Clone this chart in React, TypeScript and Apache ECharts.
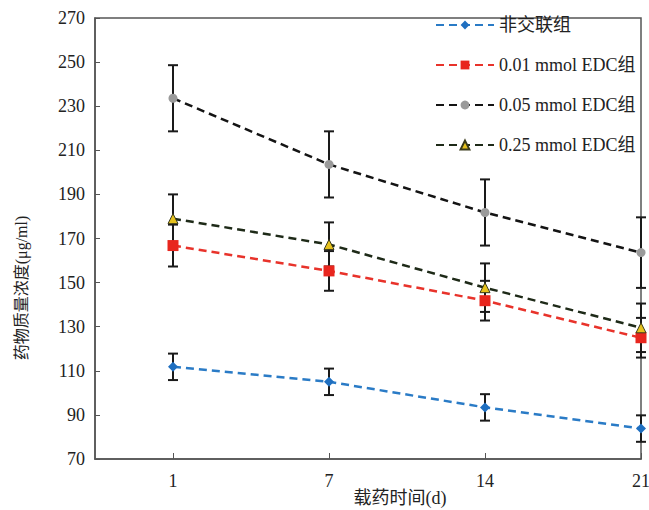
import React, { useEffect, useRef } from "react";
import * as echarts from "echarts";

const categories = ["1", "7", "14", "21"];
const seriesNames = ["非交联组", "0.01 mmol EDC组", "0.05 mmol EDC组", "0.25 mmol EDC组"];
const noCross = [111.8, 105, 93.4, 83.8];
const noCrossErr = [6, 6, 6, 6];
const edc001 = [166.8, 155.3, 141.8, 125];
const edc001Err = [9.5, 9, 9, 9];
const edc005 = [233.6, 203.6, 181.8, 163.6];
const edc005Err = [15, 15, 15, 16];
const edc025 = [179, 167.3, 147.7, 129.5];
const edc025Err = [11, 10, 11, 11];
const yTicks = [70, 90, 110, 130, 150, 170, 190, 210, 230, 250, 270];

const serif = "'Liberation Serif', 'Noto Sans CJK SC', serif";

export default function App() {
  const ref = useRef<HTMLDivElement>(null);
  useEffect(() => {
    if (!ref.current) return;
    const chart = echarts.init(ref.current, null, { renderer: "svg" });
    const xIdx = categories.map((_, i) => i);

    const mk = (vals: number[]) => vals.map((v, i) => [xIdx[i], v]);
    const errData: number[][] = [];
    [
      [noCross, noCrossErr],
      [edc001, edc001Err],
      [edc005, edc005Err],
      [edc025, edc025Err],
    ].forEach(([vals, errs]) => {
      vals.forEach((v, i) => errData.push([xIdx[i], v - errs[i], v + errs[i]]));
    });

    const lineBase = (name: string, data: number[], lineColor: string, symbol: string, symColor: string, symSize: number, border?: string) => ({
      name,
      type: "line",
      data: mk(data),
      z: 3,
      symbol,
      symbolSize: symSize,
      lineStyle: { color: lineColor, width: 2.5, type: [8, 5] },
      itemStyle: { color: symColor, borderColor: border || symColor, borderWidth: border ? 1 : 0 },
    });

    chart.setOption({
      animation: false,
      backgroundColor: "#fff",
      grid: { left: 95, right: 8, top: 18, bottom: 51, containLabel: false, outerBoundsMode: "none" },
      legend: {
        data: seriesNames,
        orient: "vertical",
        left: 435,
        top: 16,
        padding: 0,
        itemWidth: 58,
        itemHeight: 11,
        itemGap: 22,
        textStyle: { fontFamily: serif, fontSize: 18, color: "#222" },
      },
      xAxis: {
        type: "value",
        min: -0.5,
        max: 3,
        axisLine: { show: true, onZero: false, lineStyle: { color: "#555", width: 1.5 } },
        axisTick: { show: true, inside: true, length: 6, customValues: xIdx, lineStyle: { color: "#555" } },
        axisLabel: {
          customValues: xIdx,
          formatter: (v: number) => categories[Math.round(v)] ?? "",
          fontFamily: serif,
          fontSize: 18,
          color: "#222",
          margin: 13,
        },
        splitLine: { show: false },
      },
      yAxis: {
        type: "value",
        min: 70,
        max: 270,
        interval: 20,
        axisLine: { show: true, onZero: false, lineStyle: { color: "#555", width: 1.5 } },
        axisTick: { show: true, inside: true, length: 5, lineStyle: { color: "#555" } },
        axisLabel: {
          fontFamily: serif,
          fontSize: 18,
          color: "#222",
          margin: 10,
          formatter: (v: number) => (yTicks.includes(v) ? String(v) : ""),
        },
        splitLine: { show: false },
      },
      graphic: [
        {
          type: "rect",
          shape: { x: 95, y: 18, width: 546, height: 441 },
          style: { fill: "none", stroke: "#555", lineWidth: 1.5 },
          silent: true,
          z: 0,
        },
        {
          type: "text",
          x: 21,
          y: 288,
          rotation: Math.PI / 2,
          style: {
            text: "药物质量浓度(μg/ml)",
            fontFamily: serif,
            fontSize: 16,
            fill: "#222",
            align: "center",
            verticalAlign: "middle",
          },
        },
        {
          type: "text",
          x: 400,
          y: 498,
          style: {
            text: "载药时间(d)",
            fontFamily: serif,
            fontSize: 18,
            fill: "#222",
            align: "center",
            verticalAlign: "middle",
          },
        },
      ],
      series: [
        {
          type: "custom",
          name: "err",
          data: errData,
          z: 2,
          renderItem: (params: any, api: any) => {
            const x = api.value(0);
            const lo = api.coord([x, api.value(1)]);
            const hi = api.coord([x, api.value(2)]);
            const w = 5;
            const st = { stroke: "#1a1a1a", lineWidth: 2 };
            return {
              type: "group",
              children: [
                { type: "line", shape: { x1: lo[0], y1: lo[1], x2: hi[0], y2: hi[1] }, style: st },
                { type: "line", shape: { x1: lo[0] - w, y1: lo[1], x2: lo[0] + w, y2: lo[1] }, style: st },
                { type: "line", shape: { x1: hi[0] - w, y1: hi[1], x2: hi[0] + w, y2: hi[1] }, style: st },
              ],
            };
          },
        },
        lineBase(seriesNames[0], noCross, "#2a7bc6", "diamond", "#1f6fc0", 10),
        lineBase(seriesNames[1], edc001, "#e8332b", "rect", "#e8261e", 11),
        lineBase(seriesNames[2], edc005, "#141414", "circle", "#9a9a9a", 9),
        lineBase(seriesNames[3], edc025, "#1e2a18", "triangle", "#e6c21e", 10, "#3a3a1a"),
      ],
    });
    return () => chart.dispose();
  }, []);
  return <div ref={ref} style={{ width: 649, height: 510, position: "absolute", left: 0, top: 0 }} />;
}
